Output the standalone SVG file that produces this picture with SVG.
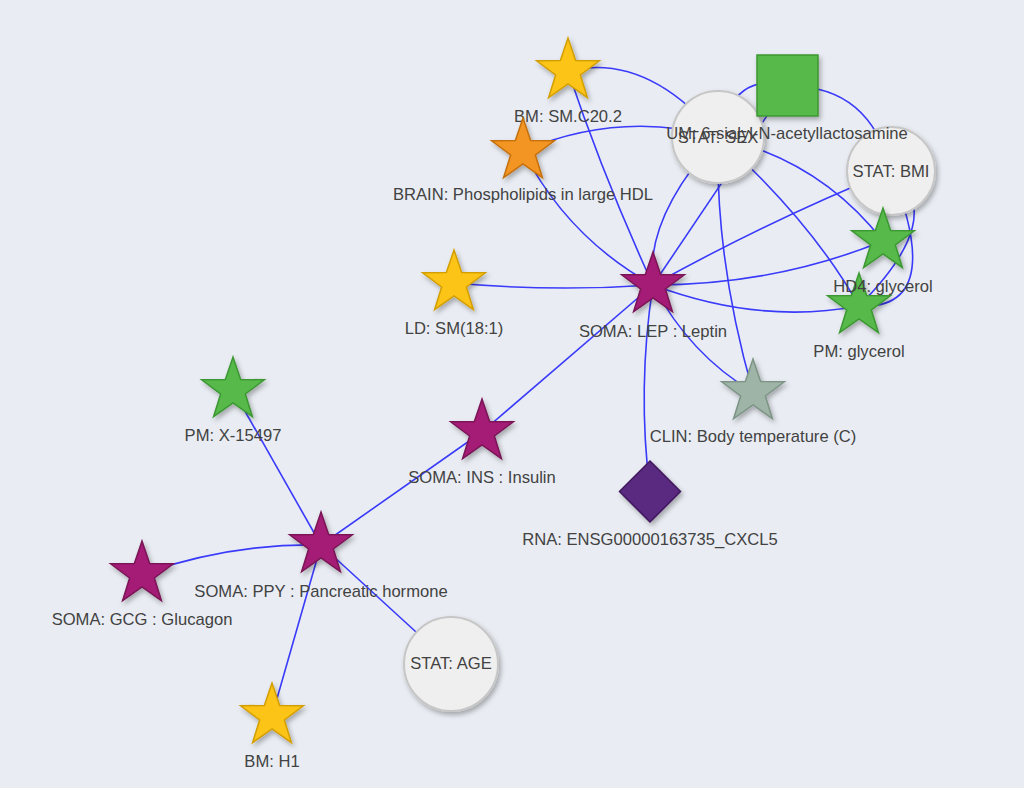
<svg xmlns="http://www.w3.org/2000/svg" xmlns:xlink="http://www.w3.org/1999/xlink" width="1024" height="788" viewBox="0 0 1024 788">
<style>
.e{fill:none;stroke:#3a3afa;stroke-width:1.6}
.lbl{font-family:"Liberation Sans",Arial,sans-serif;font-size:16.6px;fill:#424242;text-anchor:middle}
.yel{fill:#fcc419;stroke:#d39e00;stroke-width:1.5}
.org{fill:#f29523;stroke:#c56f0c;stroke-width:1.5}
.mag{fill:#a51c76;stroke:#7a1356;stroke-width:1.5}
.grn{fill:#56b949;stroke:#3c9733;stroke-width:1.5}
.gry{fill:#9eb4a6;stroke:#7d9486;stroke-width:1.5}
.pur{fill:#5a2a80;stroke:#41185f;stroke-width:1.5}
.cir{fill:#efefef;stroke:#c6c6c6;stroke-width:2}
.sh{filter:url(#ds)}
</style>
<defs>
<filter id="ds" x="-30%" y="-30%" width="170%" height="170%">
<feDropShadow dx="2" dy="3" stdDeviation="2.5" flood-color="#000" flood-opacity="0.3"/>
</filter>
<path id="star" d="M0,-33 L7.64,-10.52 L31.38,-10.2 L12.36,4.02 L19.4,26.7 L0,13 L-19.4,26.7 L-12.36,4.02 L-31.38,-10.2 L-7.64,-10.52 Z"/>
</defs>
<rect width="1024" height="788" fill="#e9edf3"/>
<g id="edges">
<path class="e" d="M568,71 Q603,176 653,285"/>
<path class="e" d="M523,151 Q568,238 653,285"/>
<path class="e" d="M454,283 Q553,292 653,285"/>
<path class="e" d="M653,285 L482,432"/>
<path class="e" d="M482,432 L321,545"/>
<path class="e" d="M653,285 Q637,388 650,491"/>
<path class="e" d="M653,285 Q690,355 753,392"/>
<path class="e" d="M653,285 Q760,325 859,306"/>
<path class="e" d="M653,285 Q775,285 883,241"/>
<path class="e" d="M653,285 Q770,220 891,171"/>
<path class="e" d="M718,137 Q644,219 653,285"/>
<path class="e" d="M787,86 L653,285"/>
<path class="e" d="M718,137 Q715,260 753,392"/>
<path class="e" d="M718,137 Q820,160 883,241"/>
<path class="e" d="M718,137 Q812,222 859,306"/>
<path class="e" d="M568,71 Q647,52 718,137"/>
<path class="e" d="M523,151 Q620,110 718,137"/>
<path class="e" d="M718,137 Q735,70 787,86"/>
<path class="e" d="M787,86 Q870,85 891,171"/>
<path class="e" d="M891,171 Q950,215 859,306"/>
<path class="e" d="M891,171 C915,230 935,310 859,306"/>
<path class="e" d="M233,390 L321,545"/>
<path class="e" d="M142,574 Q232,543 321,545"/>
<path class="e" d="M272,716 L321,545"/>
<path class="e" d="M321,545 L451,664"/>
</g>
<g id="n-sm"><use xlink:href="#star" href="#star" class="yel sh" transform="translate(568,71)"/><text class="lbl" x="568" y="122">BM: SM.C20.2</text></g>
<g id="n-brain"><use href="#star" class="org sh" transform="translate(523,151)"/><text class="lbl" x="523" y="200">BRAIN: Phospholipids in large HDL</text></g>
<g id="n-sex"><circle class="cir sh" cx="718" cy="137" r="46"/><text class="lbl" x="718" y="143">STAT: SEX</text></g>
<g id="n-bmi"><circle class="cir sh" cx="891" cy="171" r="44"/><text class="lbl" x="891" y="177">STAT: BMI</text></g>
<g id="n-um"><rect class="grn sh" x="757" y="55" width="61" height="61"/><text class="lbl" x="787" y="139">UM: 6-sialyl-N-acetyllactosamine</text></g>
<g id="n-pmg"><use href="#star" class="grn sh" transform="translate(859,306)"/><text class="lbl" x="859" y="357">PM: glycerol</text></g>
<g id="n-hd4"><use href="#star" class="grn sh" transform="translate(883,241)"/><text class="lbl" x="883" y="292">HD4: glycerol</text></g>
<g id="n-lep"><use href="#star" class="mag sh" transform="translate(653,285)"/><text class="lbl" x="653" y="337">SOMA: LEP : Leptin</text></g>
<g id="n-ld"><use href="#star" class="yel sh" transform="translate(454,283)"/><text class="lbl" x="454" y="334">LD: SM(18:1)</text></g>
<g id="n-clin"><use href="#star" class="gry sh" transform="translate(753,392)"/><text class="lbl" x="753" y="442">CLIN: Body temperature (C)</text></g>
<g id="n-rna"><path class="pur sh" d="M650,461 L680.5,491.5 L650,522 L619.5,491.5 Z"/><text class="lbl" x="650" y="545">RNA: ENSG00000163735_CXCL5</text></g>
<g id="n-ins"><use href="#star" class="mag sh" transform="translate(482,432)"/><text class="lbl" x="482" y="483">SOMA: INS : Insulin</text></g>
<g id="n-x"><use href="#star" class="grn sh" transform="translate(233,390)"/><text class="lbl" x="233" y="441">PM: X-15497</text></g>
<g id="n-ppy"><use href="#star" class="mag sh" transform="translate(321,545)"/><text class="lbl" x="321" y="597">SOMA: PPY : Pancreatic hormone</text></g>
<g id="n-gcg"><use href="#star" class="mag sh" transform="translate(142,574)"/><text class="lbl" x="142" y="625">SOMA: GCG : Glucagon</text></g>
<g id="n-age"><circle class="cir sh" cx="451" cy="664" r="47"/><text class="lbl" x="451" y="669">STAT: AGE</text></g>
<g id="n-h1"><use href="#star" class="yel sh" transform="translate(272,716)"/><text class="lbl" x="272" y="767">BM: H1</text></g>
</svg>
